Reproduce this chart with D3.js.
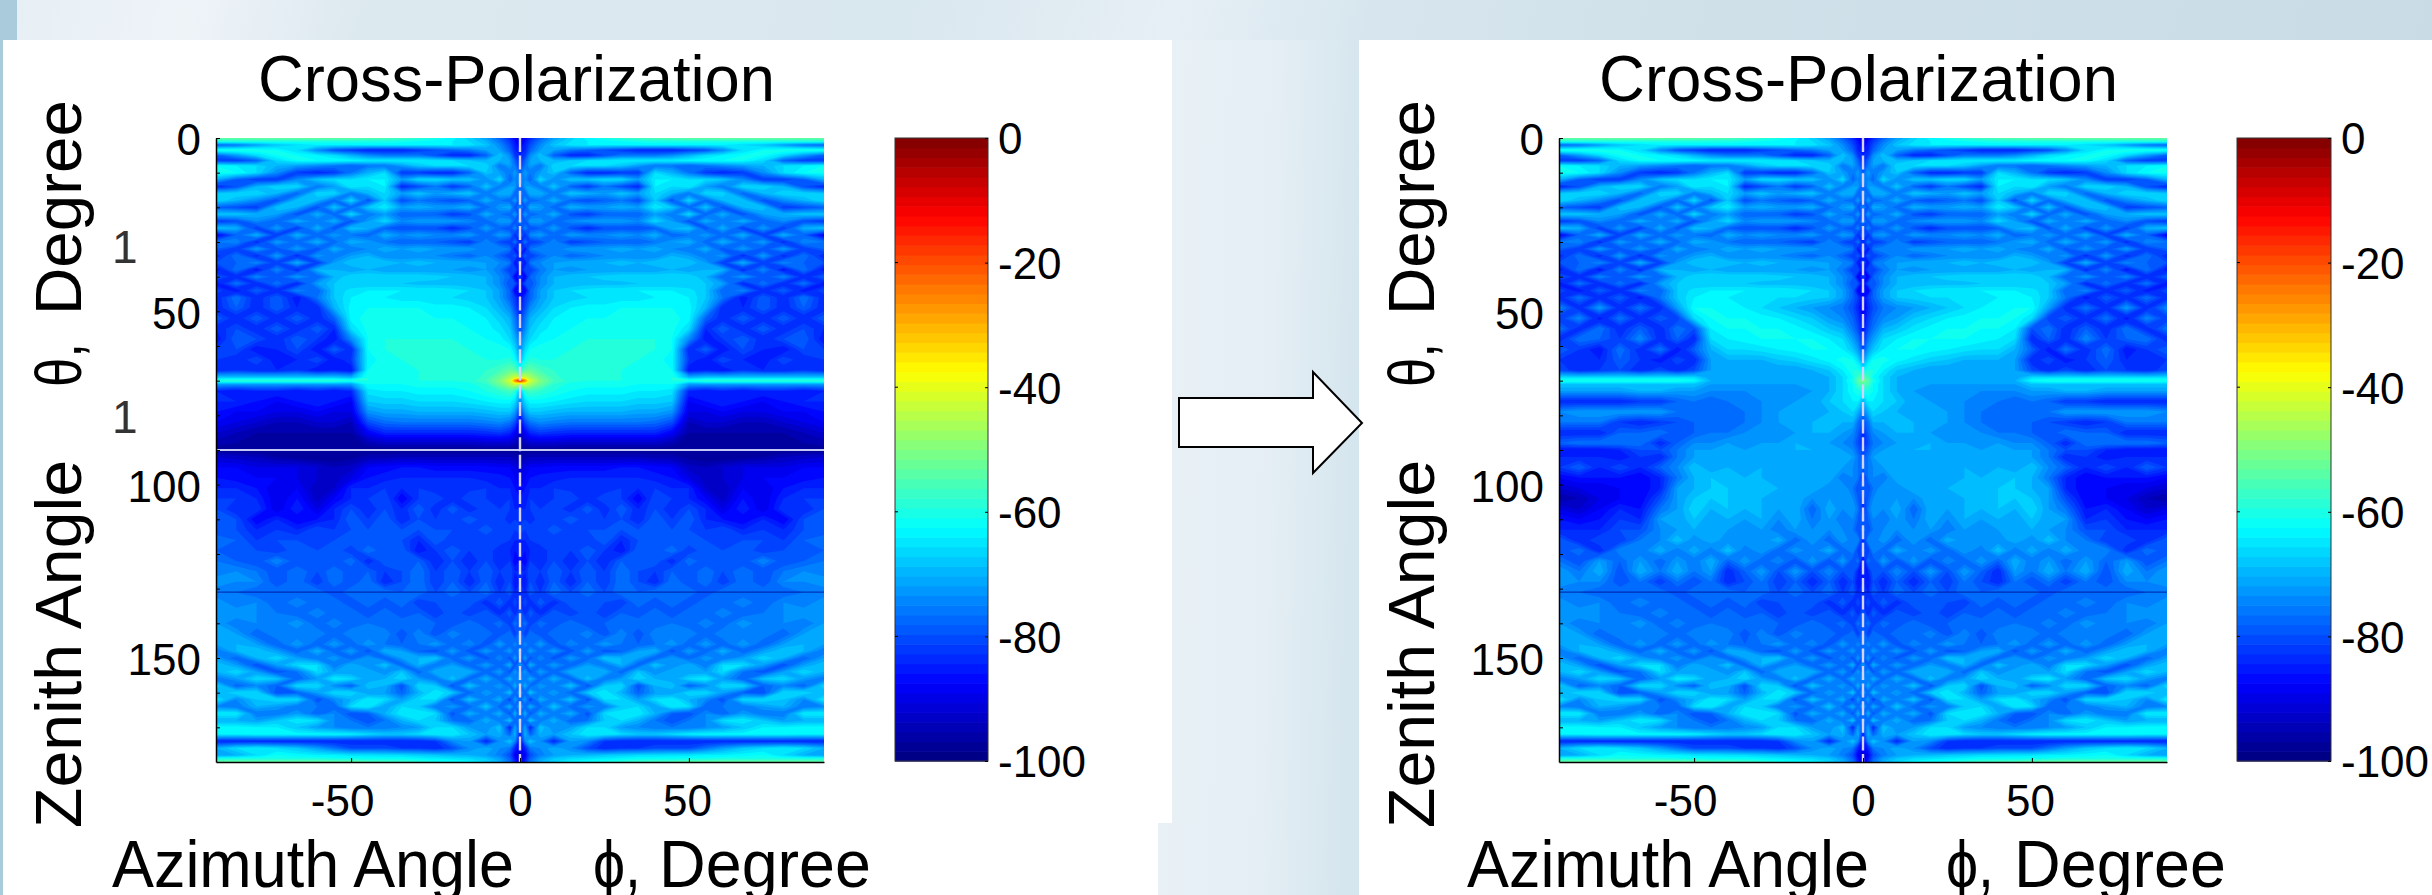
<!DOCTYPE html>
<html>
<head>
<meta charset="utf-8">
<script src="https://cdn.jsdelivr.net/npm/d3@7"></script>
<style>
  html, body { margin: 0; padding: 0; background: #fff; overflow: hidden; }
  text { font-family: "Liberation Sans", Arial, sans-serif; fill: #000; }
</style>
</head>
<body>
<script>
var plotTitle = 'Cross-Polarization';
var xLabelA = 'Azimuth Angle', xLabelB = '\u03d5,', xLabelC = 'Degree';
var yLabelA = 'Zenith Angle', yLabelB = '\u03b8,', yLabelC = 'Degree';
var xTicks = [-50, 0, 50];
var yTicks = [0, 50, 100, 150];
var yMinorTicks = [10, 20, 30, 40, 60, 70, 80, 90, 110, 120, 130, 140, 160, 170];
var barTicks = [-100, -80, -60, -40, -20, 0];
var jetStops = [-100, -87.5, -62.5, -37.5, -12.5, 0];
var jetColors = ['#00007f', '#0000ff', '#00ffff', '#ffff00', '#ff0000', '#7f0000'];

// grid of the pattern, phi is mirrored about 0 when drawn
var phiColumns = [0, 1.5, 3, 6, 10, 15, 20, 25, 30, 35, 40, 45, 50, 55, 60, 66, 72, 78, 84, 90];
var thetaRows = [0, 1, 2, 3.5, 5, 6.5, 8, 10, 12, 14, 16, 18, 20, 22, 24, 26, 28, 30, 32, 34, 36, 38, 40, 42, 44, 46,
  49, 52, 55, 58, 61, 64, 67, 69, 70, 71, 73, 76, 79, 82, 85, 88, 90, 92, 95, 98, 101, 104, 107, 110, 113, 116, 119, 122, 125,
  128, 131, 134, 137, 140, 143, 146, 148, 150, 152, 154, 156, 158, 160, 162, 164, 166, 168, 170, 172, 174, 176, 178, 179, 180];

// dB below the peak, one line per theta row
// top and bottom of the two patterns look the same
var topField = [
[92,88,84,78,72,67,63,60,58,56,55,54,53,53,52,52,52,52,52,52],
[90,86,82,76,70,66,64,63,62,61,60,60,60,60,60,60,60,60,60,60],
[88,85,80,74,68,65,64,64,64,64,64,64,64,64,64,66,68,72,76,78],
[86,84,78,72,72,76,78,80,82,84,84,84,82,80,74,66,62,60,60,60],
[84,82,74,68,78,84,84,80,76,76,76,74,70,66,64,62,62,66,72,78],
[84,78,72,70,70,68,66,65,64,64,64,64,63,62,62,62,66,78,82,82],
[82,76,72,76,66,66,66,66,68,72,76,76,78,76,74,72,70,66,64,62],
[78,72,76,72,68,78,84,84,82,82,66,70,76,82,84,82,74,66,62,62],
[76,74,78,66,74,68,68,66,66,72,64,64,66,66,68,74,82,82,78,70],
[80,72,72,76,68,78,82,76,80,84,64,66,64,72,76,66,66,70,80,84],
[74,78,70,70,76,68,70,72,68,72,66,70,76,66,66,78,70,66,66,68],
[80,72,78,76,70,78,80,78,76,80,68,80,66,78,70,68,80,74,70,66],
[74,80,70,72,78,70,72,72,70,72,64,68,78,68,80,70,68,82,80,78],
[82,72,78,76,70,80,82,78,78,78,72,76,66,78,70,80,72,70,68,68],
[74,80,72,72,78,74,72,72,72,74,66,72,80,70,76,70,78,74,80,82],
[82,74,80,78,72,80,84,80,80,80,78,70,68,80,70,82,72,82,70,68],
[76,84,74,72,78,72,74,74,72,74,70,78,76,72,78,70,82,70,78,88],
[84,76,82,80,74,82,80,78,78,78,76,72,70,78,70,78,72,84,74,76],
[78,86,76,74,76,72,72,72,70,72,70,74,76,70,80,72,80,72,82,78],
[86,78,82,78,74,78,76,74,74,74,74,70,72,76,72,84,72,84,76,84],
[80,86,76,74,72,70,70,70,68,70,68,70,68,72,82,70,82,74,78,80],
[88,80,82,76,72,74,72,72,72,72,72,70,72,70,70,84,74,86,76,86],
[82,88,78,74,70,68,68,67,66,66,66,66,66,70,78,72,80,74,84,78],
[88,80,80,74,70,70,69,69,69,68,68,68,68,68,72,84,76,84,76,86],
[84,88,78,72,68,66,65,64,64,64,64,64,65,68,78,74,84,78,86,80],
[88,82,78,72,68,67,66,66,65,65,64,64,64,68,76,86,78,84,76,84]
];
var leftMiddle = [
[86,80,74,70,66,64,63,63,62,62,62,62,63,70,84,84,78,84,78,84],
[82,76,70,67,64,63,62,62,61,61,61,61,63,78,84,78,84,78,84,78],
[80,74,68,65,63,62,61,61,61,61,61,61,66,84,78,84,78,84,80,84],
[76,70,66,63,62,61,60,60,60,60,60,62,74,86,82,78,84,80,78,86],
[74,66,62,61,61,60,60,60,60,60,60,62,84,78,86,80,84,86,80,82],
[70,62,59,60,60,60,60,60,60,60,61,63,82,86,80,84,86,80,84,82],
[60,54,53,56,58,60,60,60,60,61,61,62,86,84,86,82,84,84,82,84],
[45,42,46,52,57,60,60,60,60,61,61,60,70,68,68,68,68,68,68,68],
[12,25,42,50,56,59,60,60,60,61,61,60,60,58,58,58,58,58,58,58],
[45,42,46,52,58,61,61,61,61,62,62,62,72,72,72,72,72,72,72,72],
[70,58,56,58,60,62,63,63,63,64,64,65,84,86,84,86,84,84,86,84],
[74,66,63,63,64,65,66,66,66,67,67,68,88,86,84,86,88,86,84,84],
[82,72,68,68,69,70,70,70,70,71,71,73,90,90,88,90,90,88,88,86],
[88,80,76,74,75,76,76,76,76,76,77,80,94,92,92,94,94,92,90,88],
[92,88,84,82,83,84,84,84,84,84,84,88,96,96,96,96,96,96,94,92],
[96,94,92,92,92,93,93,93,93,93,93,95,98,98,98,98,98,98,96,95],
[98,98,98,98,98,98,98,98,98,98,98,98,98,98,98,98,98,98,98,98],
[96,95,94,94,94,94,94,94,94,94,95,95,97,98,98,97,96,94,93,92],
[92,90,88,88,87,87,87,87,86,86,87,88,93,94,92,90,90,90,88,88],
[90,88,86,85,85,84,84,84,84,84,85,86,90,93,92,90,88,88,87,86],
[88,86,84,84,82,83,82,84,82,84,82,84,84,92,94,88,90,86,84,84],
[86,86,82,84,82,80,84,80,82,88,80,82,84,88,93,86,90,84,82,82],
[84,84,82,82,80,84,78,84,78,84,80,84,80,84,90,84,90,82,84,80],
[84,82,84,80,82,78,82,82,80,84,78,82,78,84,86,88,84,88,80,80],
[80,82,80,82,78,82,80,80,80,80,80,80,80,82,80,84,82,84,80,80],
[84,84,82,80,82,80,82,78,84,80,78,80,78,80,82,80,80,82,78,76],
[86,86,84,84,80,82,78,82,86,78,80,76,82,78,80,78,82,80,80,78],
[86,88,82,84,80,84,80,84,78,80,78,84,76,80,78,80,74,80,78,76],
[84,84,80,82,78,82,78,82,76,80,82,78,80,76,80,76,80,76,74,76]
];
var rightMiddle = [
[90,84,80,76,74,72,70,68,66,64,63,62,62,72,84,76,84,72,84,74],
[88,82,78,74,72,68,66,64,63,62,62,62,66,82,78,84,76,86,74,82],
[86,80,76,70,68,65,63,62,62,62,62,64,80,76,84,78,84,76,84,76],
[84,76,72,66,64,62,62,62,62,63,64,66,84,78,84,74,82,78,76,84],
[80,72,68,64,62,62,63,64,65,66,66,70,78,86,76,84,76,86,82,78],
[74,66,62,61,63,65,67,68,70,70,70,72,84,80,86,82,78,84,84,82],
[64,60,60,64,68,70,72,72,72,72,72,72,80,84,80,84,80,82,84,80],
[54,56,62,66,70,72,72,72,72,72,72,72,66,66,66,66,66,66,66,66],
[50,54,60,66,70,72,72,72,72,72,72,70,62,60,60,60,60,60,60,60],
[54,56,62,66,70,72,72,72,72,72,72,72,68,68,68,68,68,68,68,68],
[62,60,62,66,70,72,74,74,74,74,74,74,72,72,70,70,72,72,72,72],
[70,64,64,66,68,72,72,74,74,76,76,78,76,78,82,82,84,84,84,84],
[76,70,66,68,70,72,72,72,74,76,78,78,78,76,72,72,72,72,72,74],
[80,76,70,70,70,70,72,72,74,76,78,78,78,80,82,84,82,76,76,76],
[84,78,74,72,70,70,72,74,74,74,76,76,78,80,76,78,78,84,84,84],
[84,80,76,74,72,72,70,72,72,74,72,74,74,78,84,76,76,76,76,78],
[82,78,74,72,72,70,70,72,70,72,72,72,72,76,80,80,84,86,86,86],
[80,76,72,70,70,72,72,70,72,70,72,70,72,76,84,82,86,84,84,84],
[78,76,74,72,72,70,72,72,70,72,70,72,68,74,78,84,80,84,78,82],
[84,76,74,76,70,72,70,72,70,70,70,68,70,76,84,88,86,86,86,88],
[78,80,76,72,74,70,72,70,70,70,68,68,70,72,84,88,88,90,90,92],
[82,78,74,74,72,74,70,72,70,70,68,68,68,72,80,88,88,90,94,96],
[84,76,72,74,70,78,70,72,70,70,68,70,66,72,76,86,84,88,92,90],
[80,78,74,76,72,76,70,74,70,72,70,72,68,72,72,84,82,86,88,86],
[76,80,76,74,74,74,72,76,72,74,72,72,70,72,74,80,80,84,84,84],
[84,74,76,72,78,72,78,70,74,72,74,70,74,68,74,76,82,80,84,78],
[78,82,74,78,70,76,72,78,72,76,68,76,70,76,70,76,74,84,76,80],
[88,76,80,72,80,72,80,74,78,72,78,70,76,72,78,72,78,72,80,76],
[86,84,78,80,74,80,72,80,72,78,84,72,76,70,76,70,80,70,76,72]
];
var bottomField = [
[84,86,80,84,78,84,78,82,76,80,84,76,80,76,82,76,80,74,74,72],
[82,84,78,82,76,80,76,80,76,78,76,78,76,80,76,78,76,78,76,76],
[84,80,84,78,84,78,80,80,82,76,80,76,80,76,78,74,78,74,76,72],
[78,84,78,84,78,82,78,82,78,80,76,80,76,78,74,78,76,74,72,74],
[80,76,82,76,80,76,80,78,78,76,78,76,78,74,78,72,76,74,76,72],
[76,82,76,80,76,78,74,80,74,80,74,76,74,78,74,76,74,78,72,70],
[78,74,78,72,80,74,78,72,76,78,76,72,78,72,78,72,78,72,70,72],
[74,78,72,78,72,80,72,80,78,72,70,80,72,78,70,78,72,68,70,76],
[80,72,80,74,80,72,78,68,70,72,78,72,78,72,76,72,66,70,78,72],
[72,80,70,78,72,78,72,76,70,78,68,74,70,76,66,66,72,80,72,68],
[78,72,80,72,78,70,72,70,78,68,74,70,72,72,66,76,80,72,66,70],
[72,76,70,78,70,78,68,76,72,66,70,72,66,64,72,78,68,66,72,76],
[78,70,78,72,76,68,80,68,66,80,70,68,78,74,66,66,78,74,78,66],
[72,78,68,76,72,78,68,64,70,78,72,72,66,66,72,78,80,66,66,70],
[78,72,82,70,76,68,80,66,66,72,66,64,70,74,80,66,66,68,74,64],
[70,78,70,78,68,78,72,76,68,66,72,64,66,78,76,76,72,70,76,74],
[80,70,80,70,76,70,80,66,64,64,70,78,80,74,78,72,76,76,64,64],
[74,78,68,76,70,78,76,68,66,70,76,80,76,74,66,64,68,72,70,70],
[80,72,84,68,74,72,66,66,72,74,76,76,76,74,72,68,64,64,63,63],
[84,70,78,70,72,68,64,64,66,68,68,66,64,63,63,63,63,63,64,64],
[88,74,68,74,84,72,74,82,84,84,84,84,84,84,84,84,84,84,84,84],
[88,84,76,74,70,74,80,84,82,82,80,80,80,76,72,68,66,64,66,70],
[92,88,80,75,72,70,69,68,67,66,66,65,65,64,64,63,62,66,70,72],
[92,86,78,72,68,66,65,64,63,62,62,62,61,61,60,60,60,60,60,60],
[90,84,76,70,66,63,61,60,58,56,55,54,53,52,52,52,52,52,52,52]
];

var svg = d3.select('body').append('svg').attr('width', 2432).attr('height', 895).style('display', 'block');
var defs = svg.append('defs');

var jet = d3.scaleLinear().domain(jetStops).range(jetColors).clamp(true);

function gradient(id, stops) {
  var g = defs.append('linearGradient').attr('id', id).attr('x1', 0).attr('x2', 1).attr('y1', 0).attr('y2', 0.1);
  stops.forEach(function(s) {
    g.append('stop').attr('offset', s[0]).attr('stop-color', s[1]);
  });
}

// backdrop
gradient('bg', [[0, '#e6eff5'], [0.08, '#eef3f8'], [0.15, '#dce9ef'], [0.37, '#d9e7ee'], [0.48, '#e6eff5'], [0.56, '#d7e6ee'], [0.7, '#cfe0e9'], [1, '#c9dce5']]);
gradient('gap', [[0, '#e9f1f6'], [0.6, '#e4eef4'], [1, '#d6e6ee']]);
svg.append('rect').attr('width', 2432).attr('height', 895).attr('fill', 'url(#bg)');
svg.append('rect').attr('x', 1158).attr('y', 40).attr('width', 202).attr('height', 855).attr('fill', 'url(#gap)');
svg.append('rect').attr('width', 17).attr('height', 40).attr('fill', '#a9cbdb');
svg.append('rect').attr('y', 40).attr('width', 3).attr('height', 855).attr('fill', '#a9cbdb');
svg.append('path').attr('d', 'M3,40H1172V823H1158V895H3Z').attr('fill', '#fff');
svg.append('rect').attr('x', 1359).attr('y', 40).attr('width', 1073).attr('height', 855).attr('fill', '#fff');

// arrow between the panels
svg.append('path').attr('d', 'M1179,398H1313V372L1362,423L1313,473V447H1179Z').attr('fill', '#fff').attr('stroke', '#000').attr('stroke-width', 2);

var thresholds = d3.range(-100, 0, 2);

function drawPanel(o) {
  var g = svg.append('g');
  var x = d3.scaleLinear().domain([-90, 90]).range([o.left, o.left + 608]);
  var y = d3.scaleLinear().domain([0, 180]).range([138, 762]);

  // mirror the half plane
  var phiFull = phiColumns.slice(1).reverse().map(function(d) { return -d; }).concat(phiColumns);
  var values = [];
  o.field.forEach(function(row) {
    if (row.length !== phiColumns.length) throw new Error('bad row ' + row);
    values = values.concat(row.slice(1).reverse(), row);
  });
  if (o.field.length !== thetaRows.length) throw new Error('rows ' + o.field.length + ' vs ' + thetaRows.length);
  values = values.map(function(d) { return -d; });

  var nx = phiFull.length, ny = thetaRows.length;
  var xIdx = d3.scaleLinear().domain(d3.range(nx).map(function(i) { return i + 0.5; })).range(phiFull.map(x)).clamp(true);
  var yIdx = d3.scaleLinear().domain(d3.range(ny).map(function(i) { return i + 0.5; })).range(thetaRows.map(y)).clamp(true);
  var path = d3.geoPath(d3.geoTransform({
    point: function(px, py) { this.stream.point(xIdx(px), yIdx(py)); }
  }));

  g.append('rect').attr('x', x(-90)).attr('y', y(0)).attr('width', 608).attr('height', 624).attr('fill', jet(-100));
  g.selectAll('path.band').data(d3.contours().size([nx, ny]).thresholds(thresholds)(values)).enter().append('path')
    .attr('class', 'band').attr('d', path).attr('fill', function(d) { return jet(d.value + 1); });

  // thin features of the pattern
  if (o.whiteLine) {
    g.append('line').attr('x1', x(-90)).attr('x2', x(90)).attr('y1', y(90)).attr('y2', y(90)).attr('stroke', '#c4c8f4').attr('stroke-width', 2);
  }
  g.append('line').attr('x1', x(-90)).attr('x2', x(90)).attr('y1', y(131)).attr('y2', y(131)).attr('stroke', '#00007f').attr('stroke-opacity', 0.6).attr('stroke-width', 1.2);
  g.append('line').attr('x1', x(0)).attr('x2', x(0)).attr('y1', y(0)).attr('y2', y(180)).attr('stroke', '#d4d4fa').attr('stroke-width', 2.4).attr('stroke-dasharray', '14 3.6');

  // axes
  var ax = g.append('g').attr('transform', 'translate(0,762)').call(d3.axisBottom(x).tickValues(xTicks).tickFormat(String).tickSizeInner(-4).tickSizeOuter(0).tickPadding(23));
  ax.selectAll('text').style('font-size', '44px').attr('dx', function(d) { return d < 0 ? -9 : d > 0 ? -2 : 0; });
  var ay = g.append('g').attr('transform', 'translate(' + o.left + ',0)').call(d3.axisLeft(y).tickValues(yTicks).tickSizeInner(-4).tickSizeOuter(0).tickPadding(15));
  ay.selectAll('text').style('font-size', '44px').attr('dy', '0.38em');
  g.append('g').attr('transform', 'translate(' + o.left + ',0)').call(d3.axisLeft(y).tickValues(yMinorTicks).tickSizeInner(-4).tickSizeOuter(0).tickFormat(''))
    .select('.domain').remove();
  g.selectAll('.domain').attr('stroke-width', 1.5);

  // colorbar
  var by = d3.scaleLinear().domain([-100, 0]).range([761, 138]);
  var bw = o.barRight - o.barLeft;
  var step = 100 / 64;
  g.selectAll('rect.cb').data(d3.range(-100, 0, step)).enter().append('rect').attr('class', 'cb')
    .attr('x', o.barLeft).attr('width', bw)
    .attr('y', function(d) { return by(d + step); })
    .attr('height', by(0) - by(step) + 0.6)
    .attr('fill', function(d) { return jet(d + step / 2); });
  g.append('rect').attr('x', o.barLeft).attr('y', 138).attr('width', bw).attr('height', 623).attr('fill', 'none').attr('stroke', '#333').attr('stroke-width', 1);
  var cb = g.append('g').attr('transform', 'translate(' + o.barRight + ',0)').call(d3.axisRight(by).tickValues(barTicks).tickFormat(String).tickSizeInner(-3).tickSizeOuter(0).tickPadding(10));
  cb.selectAll('text').style('font-size', '44px').attr('dy', '0.36em');
  cb.select('.domain').remove();
  g.selectAll('line.barTick').data(barTicks.slice(1, 5)).enter().append('line').attr('class', 'barTick')
    .attr('x1', o.barLeft).attr('x2', o.barLeft + 3).attr('y1', by).attr('y2', by).attr('stroke', '#000');

  // title and axis names
  g.append('text').text(plotTitle).attr('x', o.titleX).attr('y', 101).style('font-size', '64px')
    .attr('textLength', o.titleW).attr('lengthAdjust', 'spacingAndGlyphs');
  var xName = [[xLabelA, o.xA, 402], [xLabelB, o.xB, 48], [xLabelC, o.xC, 212]];
  xName.forEach(function(t) {
    g.append('text').text(t[0]).attr('x', t[1]).attr('y', 887).style('font-size', '67px')
      .attr('textLength', t[2]).attr('lengthAdjust', 'spacingAndGlyphs');
  });
  var yName = [[yLabelA, 828, 368], [yLabelB, 387, 44], [yLabelC, 315, 215]];
  yName.forEach(function(t) {
    g.append('text').text(t[0]).attr('transform', 'translate(' + o.yBase + ',' + t[1] + ') rotate(-90)').style('font-size', '65px')
      .attr('textLength', t[2]).attr('lengthAdjust', 'spacingAndGlyphs');
  });
}

drawPanel({ field: topField.concat(leftMiddle, bottomField), left: 216, barLeft: 895, barRight: 988, titleX: 258, titleW: 517, xA: 112, xB: 593, xC: 659, yBase: 81, whiteLine: true });
drawPanel({ field: topField.concat(rightMiddle, bottomField), left: 1559, barLeft: 2237, barRight: 2331, titleX: 1599, titleW: 519, xA: 1467, xB: 1946, xC: 2014, yBase: 1434, whiteLine: false });

// stray glyphs beside the left y axis
[263, 433].forEach(function(b) {
  svg.append('text').text('1').attr('x', 112).attr('y', b).style('font-size', '46px').style('fill', '#333');
});
</script>
</body>
</html>
